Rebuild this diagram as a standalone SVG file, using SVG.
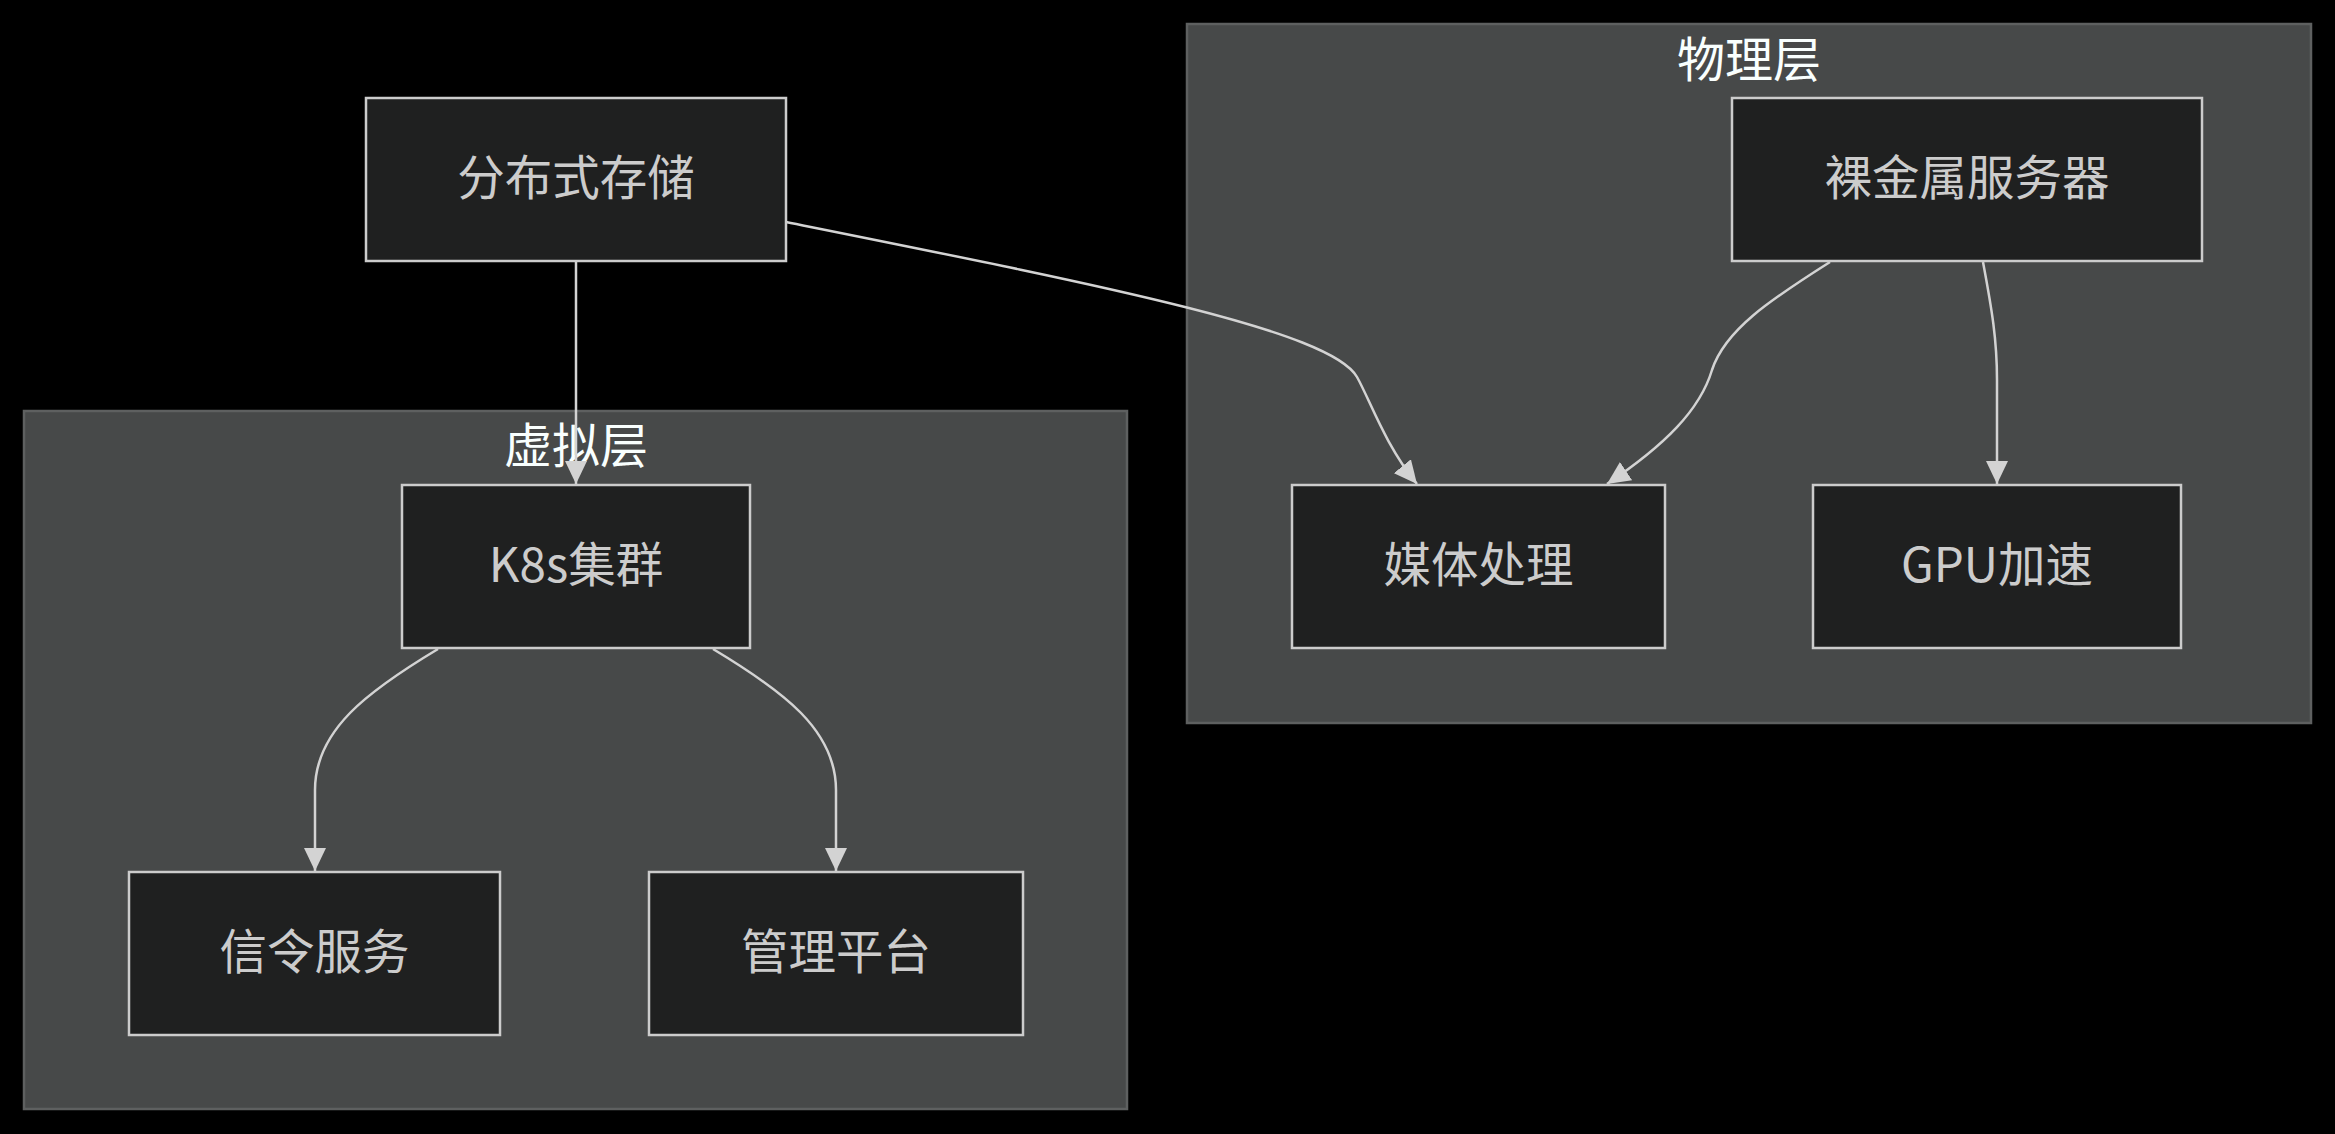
<svg xmlns="http://www.w3.org/2000/svg" width="2335" height="1134" viewBox="0 0 2335 1134">
<style>
.cluster rect{fill:#474949;stroke:#5e6060;stroke-width:2.5}
.cluster text{fill:#f9fffe;font-family:"Noto Sans CJK SC","Noto Sans",sans-serif;font-size:48px;text-anchor:middle;dominant-baseline:central}
.node rect{fill:#1f2020;stroke:#cccccc;stroke-width:2.5}
.node text{fill:#cccccc;font-family:"Noto Sans CJK SC","Noto Sans",sans-serif;font-size:47.5px;text-anchor:middle;dominant-baseline:central}
.edges path{fill:none;stroke:#d3d3d3;stroke-width:2.5;marker-end:url(#arrow)}
</style>
<defs>
<marker id="arrow" viewBox="0 0 10 10" refX="10" refY="5" markerUnits="userSpaceOnUse" markerWidth="23" markerHeight="22" preserveAspectRatio="none" orient="auto">
<path d="M0,0 L10,5 L0,10 z" fill="#d3d3d3"/>
</marker>
</defs>
<rect width="2335" height="1134" fill="#000000"/>
<g id="cluster-physical" class="cluster">
<rect x="1187" y="24" width="1124" height="699"/>
<text x="1749" y="56">物理层</text>
</g>
<g id="cluster-virtual" class="cluster">
<rect x="24" y="411" width="1103" height="698"/>
<text x="576" y="442">虚拟层</text>
</g>
<g id="edges" class="edges">
<path d="M576,261 L576,484"/>
<path d="M786,222 C1100,285 1330,330 1357,377 C1370,400 1385,445 1417,484"/>
<path d="M1830,262 C1770,300 1725,330 1712,370 C1700,410 1665,445 1607,484"/>
<path d="M1983,262 C1992,310 1997,340 1997,380 L1997,484"/>
<path d="M438,649 C368,691 315,730 315,790 L315,871"/>
<path d="M713,649 C783,691 836,730 836,790 L836,871"/>
</g>
<g id="node-storage" class="node">
<rect x="366" y="98" width="420" height="163"/>
<text x="576" y="174.5">分布式存储</text>
</g>
<g id="node-k8s" class="node">
<rect x="402" y="485" width="348" height="163"/>
<text x="576" y="561.5">K8s集群</text>
</g>
<g id="node-signal" class="node">
<rect x="129" y="872" width="371" height="163"/>
<text x="314.5" y="948.5">信令服务</text>
</g>
<g id="node-mgmt" class="node">
<rect x="649" y="872" width="374" height="163"/>
<text x="836" y="948.5">管理平台</text>
</g>
<g id="node-baremetal" class="node">
<rect x="1732" y="98" width="470" height="163"/>
<text x="1967" y="174.5">裸金属服务器</text>
</g>
<g id="node-media" class="node">
<rect x="1292" y="485" width="373" height="163"/>
<text x="1478.5" y="561.5">媒体处理</text>
</g>
<g id="node-gpu" class="node">
<rect x="1813" y="485" width="368" height="163"/>
<text x="1997" y="561.5">GPU加速</text>
</g>
</svg>
